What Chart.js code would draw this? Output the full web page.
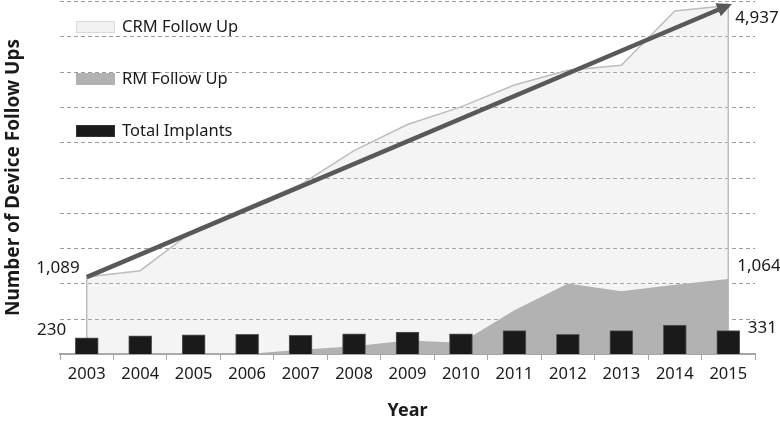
<!DOCTYPE html>
<html>
<head>
<meta charset="utf-8">
<style>
  html, body { margin: 0; padding: 0; background: #fff; }
  #wrap { width: 780px; height: 423px; }
</style>
<script src="https://cdn.jsdelivr.net/npm/chart.js@4.4.1/dist/chart.umd.min.js"></script>
</head>
<body>
<div id="wrap"><canvas id="followChart" width="780" height="423"></canvas></div>
<script>
var years = ['2003', '2004', '2005', '2006', '2007', '2008', '2009', '2010', '2011', '2012', '2013', '2014', '2015'];
var crmFollowUp = [1089, 1180, 1750, 2080, 2400, 2880, 3250, 3500, 3810, 4020, 4090, 4860, 4937];
var rmFollowUp = [null, null, null, 0, 60, 110, 190, 160, 620, 1000, 890, 980, 1064];
var totalImplants = [230, 258, 270, 280, 265, 285, 312, 285, 330, 280, 330, 410, 331];
var trendLine = [1089, null, null, null, null, null, null, null, null, null, null, null, 4937];

var FONT = '"Noto Sans", sans-serif';

function fmt(v) {
  return v.toLocaleString('en-US');
}

// dashed grid, legend, end labels, area edges and the arrow head
var extras = {
  id: 'extras',
  beforeDatasetsDraw: function(chart) {
    var ctx = chart.ctx;
    var y = chart.scales.y;
    var area = chart.chartArea;
    ctx.save();
    ctx.strokeStyle = '#9c9c9c';
    ctx.lineWidth = 1;
    ctx.setLineDash([4, 3]);
    y.ticks.forEach(function(t) {
      if (t.value === 0) return;
      var py = Math.round(y.getPixelForValue(t.value)) + 0.5;
      ctx.beginPath();
      ctx.moveTo(area.left, py);
      ctx.lineTo(area.right, py);
      ctx.stroke();
    });
    ctx.restore();
  },
  afterDatasetDraw: function(chart, args) {
    if (args.index !== 0) return;
    var ctx = chart.ctx;
    var pts = chart.getDatasetMeta(0).data;
    var bottom = chart.scales.y.bottom;
    ctx.save();
    ctx.strokeStyle = '#bdbdbd';
    ctx.lineWidth = 1.5;
    [pts[0], pts[pts.length - 1]].forEach(function(p) {
      ctx.beginPath();
      ctx.moveTo(p.x, p.y);
      ctx.lineTo(p.x, bottom);
      ctx.stroke();
    });
    ctx.restore();
  },
  afterDatasetsDraw: function(chart) {
    var ctx = chart.ctx;
    ctx.save();

    // arrow head on the trend line
    var tr = chart.getDatasetMeta(3).data;
    var a = tr[0], b = tr[tr.length - 1];
    var ang = Math.atan2(b.y - a.y, b.x - a.x);
    var tipX = b.x + Math.cos(ang) * 4, tipY = b.y + Math.sin(ang) * 4;
    ctx.fillStyle = '#595959';
    ctx.beginPath();
    ctx.moveTo(tipX, tipY);
    ctx.lineTo(tipX - 15 * Math.cos(ang) + 7 * Math.sin(ang), tipY - 15 * Math.sin(ang) - 7 * Math.cos(ang));
    ctx.lineTo(tipX - 15 * Math.cos(ang) - 7 * Math.sin(ang), tipY - 15 * Math.sin(ang) + 7 * Math.cos(ang));
    ctx.closePath();
    ctx.fill();

    // legend
    var items = [0, 1, 2];
    var boxY = [21, 73, 125];
    ctx.font = '16.5px ' + FONT;
    ctx.textBaseline = 'middle';
    ctx.textAlign = 'left';
    items.forEach(function(i, k) {
      var ds = chart.data.datasets[i];
      ctx.fillStyle = ds.legendColor;
      ctx.fillRect(76, boxY[k], 39, 12);
      ctx.strokeStyle = ds.legendBorder;
      ctx.lineWidth = 1;
      ctx.strokeRect(76.5, boxY[k] + 0.5, 38, 11);
      ctx.fillStyle = '#1a1a1a';
      ctx.fillText(ds.label, 122, boxY[k] + 6);
    });

    // end labels
    var crm = chart.getDatasetMeta(0).data;
    var rm = chart.getDatasetMeta(1).data;
    var bars = chart.getDatasetMeta(2).data;
    var last = years.length - 1;
    ctx.font = '17px ' + FONT;
    ctx.fillStyle = '#1a1a1a';
    ctx.textAlign = 'right';
    ctx.fillText(fmt(crmFollowUp[0]), crm[0].x - 7, crm[0].y - 9);
    ctx.fillText(fmt(totalImplants[0]), bars[0].x - bars[0].width / 2 - 9, bars[0].y - 8);
    ctx.textAlign = 'left';
    ctx.fillText(fmt(crmFollowUp[last]), crm[last].x + 7, crm[last].y + 13);
    ctx.fillText(fmt(rmFollowUp[last]), rm[last].x + 9, rm[last].y - 13);
    ctx.fillText(fmt(totalImplants[last]), bars[last].x + bars[last].width / 2 + 8, bars[last].y - 2);
    ctx.restore();
  }
};

var ctx = document.getElementById('followChart').getContext('2d');
var chart = new Chart(ctx, {
  type: 'bar',
  data: {
    labels: years,
    datasets: [{
      type: 'line',
      label: 'CRM Follow Up',
      data: crmFollowUp,
      borderColor: '#bdbdbd',
      borderWidth: 1.5,
      backgroundColor: 'rgba(205,205,205,0.22)',
      legendColor: '#f2f2f2',
      legendBorder: '#d9d9d9',
      fill: 'origin',
      pointRadius: 0,
      tension: 0,
      order: 4
    }, {
      type: 'line',
      label: 'RM Follow Up',
      data: rmFollowUp,
      borderColor: '#b2b2b2',
      borderWidth: 0,
      backgroundColor: '#b2b2b2',
      legendColor: '#b2b2b2',
      legendBorder: '#b2b2b2',
      fill: 'origin',
      pointRadius: 0,
      tension: 0,
      order: 3
    }, {
      type: 'bar',
      label: 'Total Implants',
      data: totalImplants,
      backgroundColor: '#1a1a1a',
      borderColor: '#5a5a5a',
      borderWidth: 1,
      legendColor: '#1a1a1a',
      legendBorder: '#333',
      barThickness: 23,
      order: 2
    }, {
      type: 'line',
      label: 'Trend',
      data: trendLine,
      borderColor: '#595959',
      borderWidth: 4.5,
      borderCapStyle: 'butt',
      pointRadius: 0,
      spanGaps: true,
      fill: false,
      order: 1
    }]
  },
  options: {
    responsive: false,
    animation: false,
    layout: { padding: { top: 1, right: 25, left: 0, bottom: 0 } },
    plugins: {
      legend: { display: false },
      tooltip: { enabled: false }
    },
    scales: {
      x: {
        offset: true,
        grid: {
          offset: true,
          drawOnChartArea: false,
          drawTicks: true,
          tickLength: 6,
          color: '#a6a6a6'
        },
        border: { color: '#a6a6a6', width: 2 },
        ticks: {
          color: '#1a1a1a',
          font: { family: FONT, size: 16.5 },
          padding: 4,
          maxRotation: 0
        },
        title: {
          display: true,
          text: 'Year',
          color: '#1a1a1a',
          font: { family: FONT, size: 18, weight: 'bold' },
          padding: { top: 4, bottom: 1 }
        },
        afterFit: function(scale) { scale.height = 69; }
      },
      y: {
        min: 0,
        max: 5000,
        ticks: { display: false, stepSize: 500 },
        grid: { display: false },
        border: { display: false },
        title: {
          display: true,
          text: 'Number of Device Follow Ups',
          color: '#1a1a1a',
          font: { family: FONT, size: 19, weight: 'bold' },
          padding: { top: 2, bottom: 0 }
        },
        afterFit: function(scale) { scale.width = 60; }
      }
    }
  },
  plugins: [extras]
});
</script>
</body>
</html>
